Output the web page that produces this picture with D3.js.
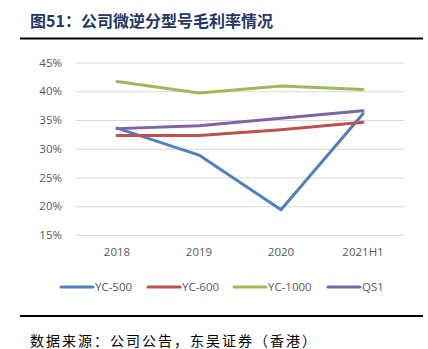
<!DOCTYPE html>
<html><head><meta charset="utf-8">
<script src="https://cdn.jsdelivr.net/npm/d3@7"></script>
<style>body{margin:0;background:#fff}svg{display:block}</style>
</head><body>
<svg id="c" width="428" height="349"></svg>
<script>
const categories = ["2018","2019","2020","2021H1"];
const seriesNames = ["YC-500","YC-600","YC-1000","QS1"];
const yc500 = [33.6, 28.9, 19.4, 36.1];
const yc600 = [32.3, 32.3, 33.3, 34.6];
const yc1000 = [41.7, 39.7, 40.9, 40.3];
const qs1 = [33.5, 34.0, 35.3, 36.6];
const yTicks = [15,20,25,30,35,40,45];
const colors = ["#4F81BD","#C0504D","#9BBB59","#8064A2"];
const series = [yc500, yc600, yc1000, qs1];

const svg = d3.select("#c");
const cjk = "'Noto Sans CJK SC', sans-serif";
const lat = "'Open Sans','Liberation Sans', sans-serif";

svg.append("text").attr("x",30).attr("y",27).attr("font-family",cjk).attr("font-weight","bold")
  .attr("font-size",16).attr("fill","#1F3864").text("图51：公司微逆分型号毛利率情况");
svg.append("line").attr("x1",20).attr("x2",423).attr("y1",38.5).attr("y2",38.5).attr("stroke","#000").attr("stroke-width",2);
svg.append("line").attr("x1",20).attr("x2",423).attr("y1",316).attr("y2",316).attr("stroke","#000").attr("stroke-width",2);
svg.append("text").attr("x",30).attr("y",346).attr("font-family",cjk).attr("font-size",14).attr("letter-spacing",2).attr("fill","#000")
  .text("数据来源：公司公告，东吴证券（香港）");

const x = d3.scaleBand().domain(categories).range([76,404]);
const y = d3.scaleLinear().domain([15,45]).range([235,62.5]);

const gy = svg.append("g").attr("transform","translate(76,0)")
  .call(d3.axisLeft(y).tickValues(yTicks).tickFormat(d=>d+"%").tickSize(-328).tickPadding(14));
gy.select(".domain").remove();
gy.selectAll(".tick line").attr("stroke","#D9D9D9").attr("stroke-width",1);
gy.selectAll(".tick text").attr("font-family",lat).attr("font-size",11.5).attr("fill","#595959");

const gx = svg.append("g").attr("transform","translate(0,235)")
  .call(d3.axisBottom(x).tickSize(0).tickPadding(13));
gx.select(".domain").remove();
gx.selectAll(".tick text").attr("font-family",lat).attr("font-size",11.5).attr("fill","#595959");

const line = d3.line().x((d,i)=>x(categories[i])+x.bandwidth()/2).y(d=>y(d));
series.forEach((s,k)=>{
  svg.append("path").datum(s).attr("d",line).attr("fill","none").attr("stroke",colors[k])
    .attr("stroke-width",3).attr("stroke-linejoin","round").attr("stroke-linecap","round");
});

const legX = [61,148,234,328];
seriesNames.forEach((n,k)=>{
  svg.append("line").attr("x1",legX[k]).attr("x2",legX[k]+32).attr("y1",287).attr("y2",287)
    .attr("stroke",colors[k]).attr("stroke-width",3).attr("stroke-linecap","round");
  svg.append("text").attr("x",legX[k]+34).attr("y",291).attr("font-family",lat).attr("font-size",11.5)
    .attr("fill","#595959").text(n);
});
</script>
</body></html>
